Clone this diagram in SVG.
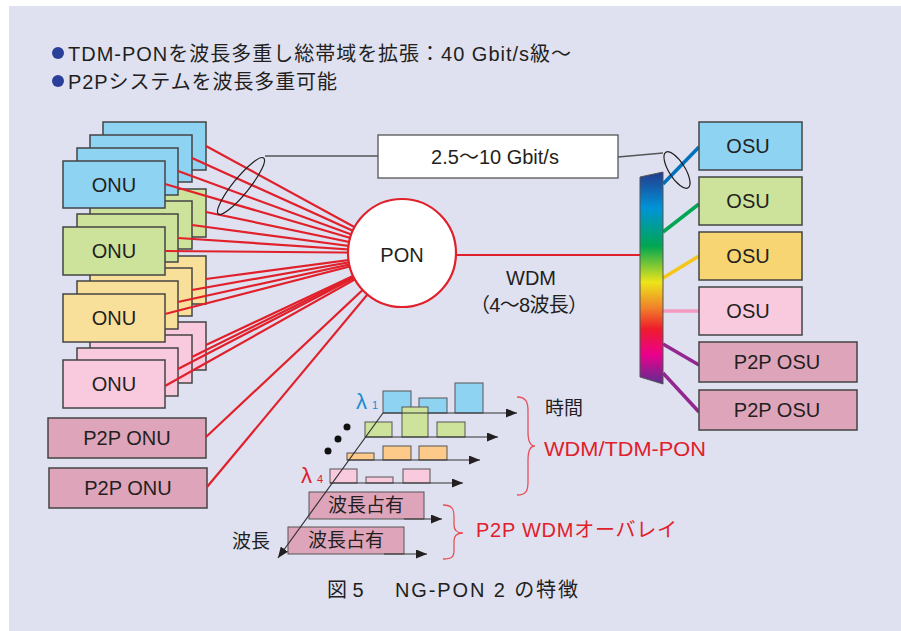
<svg xmlns="http://www.w3.org/2000/svg" width="901" height="631" viewBox="0 0 901 631">
<defs>
<style>
.t{font-family:"Liberation Sans","Noto Sans CJK JP",sans-serif;fill:#231f20}
.box{stroke:#444;stroke-width:1.5}
.b{fill:#8fd3f3}.g{fill:#cde29b}.y{fill:#f9e09a}.p{fill:#f9cade}.m{fill:#dea5ba}.yo{fill:#f7d572}.o{fill:#fdca8a}
.red{stroke:#e0202a;stroke-width:2.2;fill:none}
.ax{stroke:#333;stroke-width:1.2;fill:none}
.rt{fill:#e0202a}
</style>
<marker id="ah" markerWidth="11" markerHeight="9" refX="11" refY="4.5" orient="auto" markerUnits="userSpaceOnUse"><path d="M0,0 L11,4.5 L0,9 z" fill="#231f20"/></marker>
<linearGradient id="spec" x1="0" y1="0" x2="0" y2="1">
<stop offset="0" stop-color="#243a8c"/>
<stop offset="0.17" stop-color="#0093d8"/>
<stop offset="0.35" stop-color="#00a651"/>
<stop offset="0.52" stop-color="#ede51a"/>
<stop offset="0.64" stop-color="#f0822a"/>
<stop offset="0.74" stop-color="#ee1c2b"/>
<stop offset="0.86" stop-color="#ec008c"/>
<stop offset="1" stop-color="#5b2e91"/>
</linearGradient>
</defs>
<rect x="0" y="0" width="901" height="631" fill="#ffffff"/>
<rect x="9" y="6" width="892" height="625" fill="#dfe1f0"/>

<g id="header">
<circle cx="58" cy="53" r="6" fill="#2a3f9a"/>
<text class="t" x="68" y="61" font-size="20" textLength="503" lengthAdjust="spacing">TDM-PONを波長多重し総帯域を拡張：40 Gbit/s級〜</text>
<circle cx="58" cy="81" r="6" fill="#2a3f9a"/>
<text class="t" x="68" y="89" font-size="20" textLength="269" lengthAdjust="spacing">P2Pシステムを波長多重可能</text>
</g>

<g id="onu-pink">
<rect class="box p" x="103" y="322" width="103" height="48"/>
<rect class="box p" x="90" y="335" width="102" height="48"/>
<rect class="box p" x="77" y="348" width="101" height="48"/>
<rect class="box p" x="63" y="360" width="102" height="48"/>
<text class="t" x="114" y="391" font-size="20" text-anchor="middle">ONU</text>
</g>
<g id="onu-yellow">
<rect class="box y" x="103" y="256" width="103" height="48"/>
<rect class="box y" x="90" y="268" width="102" height="48"/>
<rect class="box y" x="77" y="281" width="101" height="48"/>
<rect class="box y" x="63" y="294" width="102" height="48"/>
<text class="t" x="114" y="325" font-size="20" text-anchor="middle">ONU</text>
</g>
<g id="onu-green">
<rect class="box g" x="103" y="189" width="103" height="48"/>
<rect class="box g" x="90" y="201" width="102" height="48"/>
<rect class="box g" x="77" y="214" width="101" height="48"/>
<rect class="box g" x="63" y="227" width="102" height="48"/>
<text class="t" x="114" y="258" font-size="20" text-anchor="middle">ONU</text>
</g>
<g id="onu-blue">
<rect class="box b" x="103" y="122" width="103" height="48"/>
<rect class="box b" x="90" y="135" width="102" height="47"/>
<rect class="box b" x="77" y="148" width="101" height="47"/>
<rect class="box b" x="63" y="161" width="102" height="47"/>
<text class="t" x="114" y="192" font-size="20" text-anchor="middle">ONU</text>
</g>
<g id="p2p-onu-1">
<rect class="box m" x="48" y="418" width="158" height="40"/>
<text class="t" x="127" y="445" font-size="20" text-anchor="middle">P2P ONU</text>
</g>
<g id="p2p-onu-2">
<rect class="box m" x="49" y="468" width="158" height="40"/>
<text class="t" x="128" y="495" font-size="20" text-anchor="middle">P2P ONU</text>
</g>

<g id="connectors">
<g class="red">
<line x1="206" y1="146" x2="402" y2="253"/>
<line x1="192" y1="158" x2="402" y2="253"/>
<line x1="178" y1="171" x2="402" y2="253"/>
<line x1="165" y1="184" x2="402" y2="253"/>
<line x1="206" y1="212" x2="402" y2="253"/>
<line x1="192" y1="225" x2="402" y2="253"/>
<line x1="178" y1="238" x2="402" y2="253"/>
<line x1="165" y1="251" x2="402" y2="253"/>
<line x1="206" y1="279" x2="402" y2="253"/>
<line x1="192" y1="290" x2="402" y2="253"/>
<line x1="178" y1="302" x2="402" y2="253"/>
<line x1="165" y1="314" x2="402" y2="253"/>
<line x1="206" y1="345" x2="402" y2="253"/>
<line x1="192" y1="357" x2="402" y2="253"/>
<line x1="178" y1="369" x2="402" y2="253"/>
<line x1="165" y1="386" x2="402" y2="253"/>
<line x1="206" y1="437" x2="402" y2="253"/>
<line x1="207" y1="487" x2="402" y2="253"/>
<line x1="440" y1="255" x2="640" y2="255"/>
</g>
<ellipse cx="241" cy="186" rx="36" ry="8" fill="none" stroke="#231f20" stroke-width="1.2" transform="rotate(-51 241 186)"/>
<line x1="265" y1="156" x2="378" y2="156" stroke="#555" stroke-width="1.3"/>
<line x1="618" y1="157" x2="663" y2="153" stroke="#555" stroke-width="1.3"/>
<g stroke-width="3.5" fill="none">
<line x1="663" y1="184" x2="699" y2="147" stroke="#0072bc"/>
<line x1="663" y1="232" x2="699" y2="204" stroke="#00a651"/>
<line x1="663" y1="278" x2="699" y2="256" stroke="#f5c518"/>
<line x1="663" y1="311" x2="699" y2="311" stroke="#f49ac1"/>
<line x1="663" y1="344" x2="699" y2="365" stroke="#92278f"/>
<line x1="663" y1="373" x2="699" y2="412" stroke="#92278f"/>
</g>
<ellipse cx="677" cy="170" rx="21" ry="8" fill="none" stroke="#231f20" stroke-width="1.2" transform="rotate(58 677 170)"/>
</g>

<g id="pon">
<circle cx="402" cy="253" r="54" fill="#ffffff" stroke="#e0202a" stroke-width="2.2"/>
<text class="t" x="402" y="262" font-size="20" text-anchor="middle">PON</text>
</g>

<g id="rate-label">
<rect x="378" y="135" width="240" height="43" fill="#ffffff" stroke="#555" stroke-width="1.3"/>
<text class="t" x="495" y="164" font-size="20" text-anchor="middle">2.5〜10 Gbit/s</text>
</g>

<g id="wdm-label">
<text class="t" x="531" y="285" font-size="20" text-anchor="middle">WDM</text>
<text class="t" x="470" y="312" font-size="20" textLength="118" lengthAdjust="spacing">（4〜8波長）</text>
</g>

<g id="wdm-filter">
<polygon points="640,177 663,172 663,384 640,377" fill="url(#spec)" stroke="#555" stroke-width="1"/>
</g>

<g id="osu-1"><rect class="box b" x="699" y="122" width="103" height="48"/><text class="t" x="748" y="153" font-size="20" text-anchor="middle">OSU</text></g>
<g id="osu-2"><rect class="box g" x="699" y="177" width="103" height="48"/><text class="t" x="748" y="208" font-size="20" text-anchor="middle">OSU</text></g>
<g id="osu-3"><rect class="box yo" x="699" y="232" width="103" height="48"/><text class="t" x="748" y="263" font-size="20" text-anchor="middle">OSU</text></g>
<g id="osu-4"><rect class="box p" x="699" y="287" width="103" height="48"/><text class="t" x="748" y="318" font-size="20" text-anchor="middle">OSU</text></g>
<g id="p2p-osu-1"><rect class="box m" x="699" y="342" width="158" height="40"/><text class="t" x="777" y="369" font-size="20" text-anchor="middle">P2P OSU</text></g>
<g id="p2p-osu-2"><rect class="box m" x="699" y="390" width="158" height="40"/><text class="t" x="777" y="417" font-size="20" text-anchor="middle">P2P OSU</text></g>

<g id="time-chart">
<g stroke="#555" stroke-width="1">
<rect class="b" x="383" y="391" width="28" height="22"/>
<rect class="b" x="419" y="398" width="28" height="15"/>
<rect class="b" x="455" y="383" width="28" height="30"/>
<rect class="g" x="365" y="422" width="27" height="15"/>
<rect class="g" x="402" y="407" width="26" height="30"/>
<rect class="g" x="437" y="422" width="28" height="15"/>
<rect class="o" x="347" y="453" width="27" height="7"/>
<rect class="o" x="383" y="446" width="28" height="14"/>
<rect class="o" x="419" y="446" width="28" height="14"/>
<rect class="p" x="330" y="469" width="27" height="14"/>
<rect class="p" x="366" y="477" width="27" height="6"/>
<rect class="p" x="403" y="469" width="27" height="14"/>
<rect class="m" x="309" y="492" width="115" height="27"/>
<rect class="m" x="288" y="527" width="116" height="27"/>
</g>
<line class="ax" x1="383" y1="413" x2="517" y2="413" marker-end="url(#ah)"/>
<line class="ax" x1="365" y1="437" x2="498" y2="437" marker-end="url(#ah)"/>
<line class="ax" x1="347" y1="460" x2="480" y2="460" marker-end="url(#ah)"/>
<line class="ax" x1="330" y1="483" x2="463" y2="483" marker-end="url(#ah)"/>
<line class="ax" x1="404" y1="519" x2="442" y2="519" marker-end="url(#ah)"/>
<line class="ax" x1="384" y1="554" x2="427" y2="554" marker-end="url(#ah)"/>
<line class="ax" x1="383" y1="413" x2="278" y2="558" marker-end="url(#ah)"/>
<circle cx="347" cy="427" r="3.5" fill="#111"/>
<circle cx="338" cy="439" r="3.5" fill="#111"/>
<circle cx="328" cy="451" r="3.5" fill="#111"/>
<text class="t" x="366" y="512" font-size="19" text-anchor="middle">波長占有</text>
<text class="t" x="346" y="547" font-size="19" text-anchor="middle">波長占有</text>
<text class="t" x="356" y="409" font-size="22" style="fill:#1a8fd0">λ</text>
<text class="t" x="372" y="409" font-size="11" style="fill:#1a8fd0">1</text>
<text class="t" x="301" y="483" font-size="22" style="fill:#e0202a">λ</text>
<text class="t" x="317" y="483" font-size="11" style="fill:#e0202a">4</text>
<text class="t" x="232" y="548" font-size="19">波長</text>
<text class="t" x="545" y="415" font-size="19">時間</text>
<path d="M517,397 C526,397 528,402 528,411 L528,432 C528,441 530,446 535,446 C530,446 528,451 528,460 L528,482 C528,491 526,495 517,495" fill="none" stroke="#e8505a" stroke-width="1.3"/>
<path d="M443,505 C452,505 454,509 454,516 L454,525 C454,530 457,533 463,533 C457,533 454,536 454,541 L454,550 C454,557 452,559 443,559" fill="none" stroke="#e8505a" stroke-width="1.3"/>
<text class="t rt" x="544" y="456" font-size="21" textLength="162" lengthAdjust="spacingAndGlyphs">WDM/TDM-PON</text>
<text class="t rt" x="476" y="537" font-size="20" textLength="201" lengthAdjust="spacing">P2P WDMオーバレイ</text>
</g>

<g id="caption">
<text class="t" x="327" y="597" font-size="20">図 5</text>
<text class="t" x="395" y="597" font-size="20" textLength="183" lengthAdjust="spacing">NG-PON 2 の特徴</text>
</g>
</svg>
